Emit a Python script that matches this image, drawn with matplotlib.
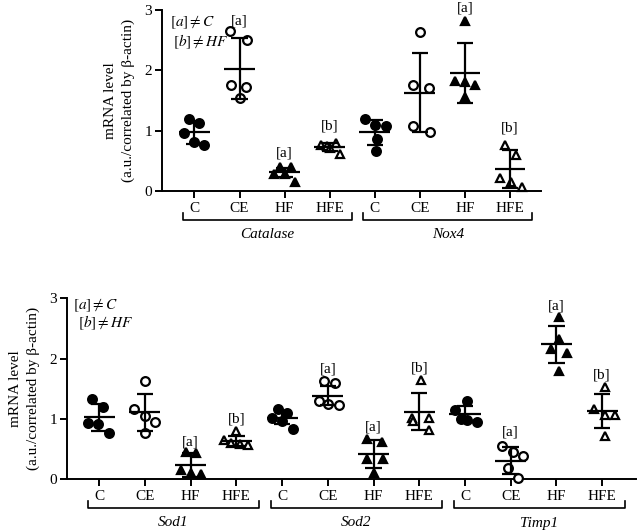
import numpy as np
import matplotlib
matplotlib.use('Agg')
import matplotlib.pyplot as plt
from matplotlib.lines import Line2D

# Settings
OUT_FILE = 'out.png'
FIG_W, FIG_H, DPI = 637, 530, 100
FONT_SIZE = 11
LINE_W = 1.6

plt.rcParams['font.family'] = ['Liberation Serif', 'DejaVu Serif']
plt.rcParams['mathtext.fontset'] = 'stix'

GROUPS = ['C', 'CE', 'HF', 'HFE']

# Data: 5 animals per group, mean and SD as drawn
catalase_values = [[1.20, 1.12, 0.96, 0.81, 0.76],
                   [2.65, 2.50, 1.76, 1.73, 1.54],
                   [0.29, 0.39, 0.39, 0.28, 0.15],
                   [0.77, 0.75, 0.79, 0.72, 0.61]]
catalase_mean = [0.97, 2.03, 0.31, 0.73]
catalase_sd = [0.185, 0.50, 0.07, 0.065]

nox4_values = [[1.20, 1.09, 1.07, 0.87, 0.67],
               [2.63, 1.76, 1.70, 1.08, 0.97],
               [2.82, 1.83, 1.80, 1.76, 1.55],
               [0.76, 0.60, 0.21, 0.15, 0.06]]
nox4_mean = [0.97, 1.63, 1.96, 0.365]
nox4_sd = [0.215, 0.66, 0.495, 0.31]

sod1_values = [[1.32, 1.20, 0.93, 0.91, 0.77],
               [1.63, 1.16, 1.05, 0.95, 0.77],
               [0.44, 0.43, 0.15, 0.10, 0.08],
               [0.80, 0.65, 0.60, 0.58, 0.57]]
sod1_mean = [1.025, 1.105, 0.235, 0.625]
sod1_sd = [0.22, 0.31, 0.20, 0.085]

sod2_values = [[1.17, 1.09, 1.02, 0.97, 0.83],
               [1.63, 1.59, 1.30, 1.25, 1.23],
               [0.66, 0.62, 0.34, 0.34, 0.10],
               [1.64, 1.01, 1.02, 0.97, 0.81]]
sod2_mean = [1.02, 1.385, 0.415, 1.117]
sod2_sd = [0.105, 0.16, 0.235, 0.31]

timp1_values = [[1.30, 1.15, 0.99, 0.98, 0.95],
                [0.55, 0.45, 0.39, 0.19, 0.02],
                [2.69, 2.32, 2.16, 2.09, 1.80],
                [1.52, 1.17, 1.07, 1.06, 0.71]]
timp1_mean = [1.074, 0.304, 2.236, 1.13]
timp1_sd = [0.13, 0.22, 0.31, 0.28]

# significance labels: (group index, label, height)
catalase_sig = [(1, '[a]', 2.82), (2, '[a]', 0.63), (3, '[b]', 1.07)]
nox4_sig = [(2, '[a]', 3.03), (3, '[b]', 1.05)]
sod1_sig = [(2, '[a]', 0.62), (3, '[b]', 1.00)]
sod2_sig = [(1, '[a]', 1.83), (2, '[a]', 0.87), (3, '[b]', 1.84)]
timp1_sig = [(1, '[a]', 0.785), (2, '[a]', 2.87), (3, '[b]', 1.73)]

# horizontal scatter of the dots (layout only)
catalase_jit = [[-0.11, 0.11, -0.23, 0.0, 0.22], [-0.20, 0.16, -0.18, 0.15, 0.0],
                [-0.24, -0.11, 0.14, 0.01, 0.24], [-0.20, -0.06, 0.14, 0.01, 0.24]]
nox4_jit = [[-0.22, 0.0, 0.24, 0.04, 0.02], [0.0, -0.16, 0.20, -0.16, 0.22],
            [0.0, -0.21, 0.0, 0.23, 0.0], [-0.11, 0.13, -0.21, 0.02, 0.26]]
sod1_jit = [[-0.15, 0.09, -0.24, -0.02, 0.22], [0.0, -0.24, 0.0, 0.22, 0.0],
            [-0.10, 0.12, -0.22, 0.0, 0.22], [0.0, -0.28, -0.11, 0.07, 0.25]]
sod2_jit = [[-0.10, 0.11, -0.21, 0.0, 0.24], [-0.09, 0.15, -0.20, 0.0, 0.24],
            [-0.15, 0.19, -0.15, 0.20, 0.02], [0.04, -0.15, 0.22, -0.13, 0.22]]
timp1_jit = [[0.04, -0.22, -0.09, 0.05, 0.27], [-0.20, 0.05, 0.27, -0.07, 0.15],
             [0.06, 0.06, -0.12, 0.24, 0.06], [0.07, -0.17, 0.07, 0.29, 0.07]]

MARKERS = [('o', 'black'), ('o', 'white'), ('^', 'black'), ('^', 'white')]


def px(fig_px_y):
    """Convert pixels-from-top into figure fraction."""
    return (FIG_H - fig_px_y) / FIG_H


def draw_gene(ax, start, name, values, means, sds, jitter, sig, ax_h_px):
    for g in range(4):
        xc = start + g
        marker, face = MARKERS[g]
        xs = xc + np.array(jitter[g])
        ax.plot(xs, values[g], linestyle='none', marker=marker, ms=6.3,
                mfc=face, mec='black', mew=1.6, zorder=3, clip_on=False)
        m, s = means[g], sds[g]
        ax.hlines(m, xc - 0.34, xc + 0.34, color='black', lw=LINE_W, zorder=4)
        ax.vlines(xc, m - s, m + s, color='black', lw=LINE_W, zorder=4)
        ax.hlines([m - s, m + s], xc - 0.18, xc + 0.18, color='black',
                  lw=LINE_W, zorder=4)
    for g, lab, y in sig:
        ax.text(start + g, y, lab, ha='center', va='center',
                fontsize=FONT_SIZE, clip_on=False)

    # bracket and gene name below the tick labels
    tr = ax.get_xaxis_transform()
    yb = -29 / ax_h_px
    ye = -22 / ax_h_px
    x0, x1 = start - 0.25, start + 3.5
    ax.add_line(Line2D([x0, x0, x1, x1], [ye, yb, yb, ye], transform=tr,
                       color='black', lw=1.2, clip_on=False))
    ax.text((x0 + x1) / 2, -44 / ax_h_px, name, transform=tr, ha='center',
            va='center', fontsize=FONT_SIZE, style='italic')


def style_axes(ax, n_groups, xlim):
    ax.set_xlim(xlim)
    ax.set_ylim(0, 3)
    ax.set_yticks([0, 1, 2, 3])
    ax.set_xticks(range(4 * n_groups))
    ax.set_xticklabels(GROUPS * n_groups)
    for sp in ('top', 'right'):
        ax.spines[sp].set_visible(False)
    for sp in ('left', 'bottom'):
        ax.spines[sp].set_linewidth(1.4)
    ax.tick_params(axis='both', length=5, width=1.4, labelsize=FONT_SIZE,
                   direction='out')
    ax.tick_params(axis='x', pad=3)
    ax.tick_params(axis='y', pad=2)
    ax.set_ylabel('mRNA level\n(a.u./correlated by β-actin)',
                  fontsize=FONT_SIZE, linespacing=1.45)


def main():
    fig = plt.figure(figsize=(FIG_W / DPI, FIG_H / DPI), dpi=DPI)

    # top panel: Catalase, Nox4
    top_h = 181
    ax1 = fig.add_axes([162 / FIG_W, px(191), (541 - 162) / FIG_W, top_h / FIG_H])
    style_axes(ax1, 2, (-0.72, 7.69))
    ax1.yaxis.set_label_coords((135 - 162) / 379, 0.5)
    draw_gene(ax1, 0, 'Catalase', catalase_values, catalase_mean, catalase_sd,
              catalase_jit, catalase_sig, top_h)
    draw_gene(ax1, 4, 'Nox4', nox4_values, nox4_mean, nox4_sd,
              nox4_jit, nox4_sig, top_h)

    # bottom panel: Sod1, Sod2, Timp1
    bot_h = 180.7
    ax2 = fig.add_axes([66.7 / FIG_W, px(479), (636 - 66.7) / FIG_W, bot_h / FIG_H])
    style_axes(ax2, 3, (-0.71, 11.74))
    ax2.yaxis.set_label_coords((40 - 66.7) / 569.3, 0.5)
    draw_gene(ax2, 0, 'Sod1', sod1_values, sod1_mean, sod1_sd,
              sod1_jit, sod1_sig, bot_h)
    draw_gene(ax2, 4, 'Sod2', sod2_values, sod2_mean, sod2_sd,
              sod2_jit, sod2_sig, bot_h)
    draw_gene(ax2, 8, 'Timp1', timp1_values, timp1_mean, timp1_sd,
              timp1_jit, timp1_sig, bot_h)

    # key texts
    for x, y, s in [(170, 22, r'$[a]\neq C$'), (173, 42, r'$[b]\neq HF$'),
                    (73, 305, r'$[a]\neq C$'), (78, 323, r'$[b]\neq HF$')]:
        fig.text(x / FIG_W, px(y), s, fontsize=FONT_SIZE, va='center', ha='left')

    fig.savefig(OUT_FILE, dpi=DPI)
    plt.close(fig)


if __name__ == '__main__':
    main()
